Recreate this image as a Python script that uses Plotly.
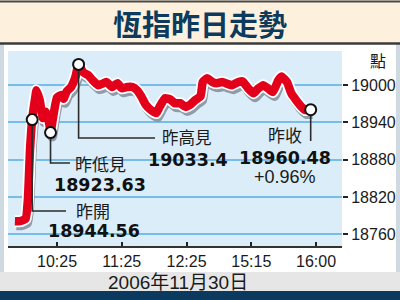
import plotly.graph_objects as go

# ---------------- data ----------------
t_pos = [-39, -34, -29, -27, -25, -23, -20, -19, -16, -13, -10, -7, -6,
         -3, 0, 4, 6, 9, 13, 17, 20,
         24, 29, 33, 38, 43, 46, 51, 56, 60,
         65, 70, 74, 78, 82, 87, 92, 95, 100,
         105, 109, 114, 119, 123, 128, 133, 135, 139,
         144, 148, 153, 158, 162, 168, 172, 177, 182,
         186, 191, 196, 200, 205, 208, 213, 217, 221,
         225, 230, 235]
hsi = [18781, 18781, 18785, 18815, 18896, 18944.56, 18982, 18992, 18976, 18947, 18957, 18936, 18923.63,
       18955, 18980, 18984, 18978, 18990, 18997, 19013, 19033.4,
       19021, 19016, 19008, 19000, 19003, 19005, 18997, 19003, 18995,
       18997, 18997, 18992, 18982, 18969, 18960, 18955, 18965, 18979,
       18977, 18971, 18971, 18965, 18968, 18976, 18982, 19005, 19011,
       19005, 19003, 19005, 19002, 19000, 19005, 19006, 18995, 18987,
       18994, 19000, 18994, 18989, 19008, 19014, 19005, 18987, 18977,
       18968, 18960, 18960.48]

tick_pos = [0, 60, 120, 180, 240]
tick_labels = ["10:25", "11:25", "12:25", "15:15", "16:00"]
y_ticks = [18760, 18820, 18880, 18940, 19000]
y_tick_labels = ["18760", "18820", "18880", "18940", "19000"]

key_names = ["昨開", "昨低見", "昨高見", "昨收"]
key_values = ["18944.56", "18923.63", "19033.4", "18960.48"]
key_idx = [5, 12, 20, len(hsi) - 1]
change_text = "+0.96%"
title_text = "恆指昨日走勢"
date_text = "2006年11月30日"
unit_text = "點"

# ---------------- geometry helpers (pixel -> axis) ----------------
W, H = 400, 300
PX_L, PX_R, PY_T, PY_B = 8, 342, 51, 246
X0, X1 = -45.4, 264.0
Y0, Y1 = 18741.0, 19055.0


def ax_x(px):
    return X0 + (px - PX_L) * (X1 - X0) / (PX_R - PX_L)


def ax_y(py):
    return Y0 + (PY_B - py) * (Y1 - Y0) / (PY_B - PY_T)


sx = (X1 - X0) / (PX_R - PX_L)
sy = (Y1 - Y0) / (PY_B - PY_T)

fig = go.Figure()

# shadow, white rim, red line
fig.add_trace(go.Scatter(x=[v + 1.5 * sx for v in t_pos], y=[v - 4 * sy for v in hsi],
                         mode="lines", line=dict(color="#8f9ba8", width=10, shape="spline", smoothing=0.4),
                         hoverinfo="skip", showlegend=False))
fig.add_trace(go.Scatter(x=t_pos, y=hsi, mode="lines",
                         line=dict(color="white", width=12, shape="spline", smoothing=0.4),
                         hoverinfo="skip", showlegend=False))
fig.add_trace(go.Scatter(x=t_pos, y=hsi, mode="lines",
                         line=dict(color="#e2001a", width=8.5, shape="spline", smoothing=0.4),
                         hoverinfo="skip", showlegend=False))

# leader lines
leader_specs = [  # (label y px, horizontal end px or None)
    (211, 66),
    (163, 70),
    (138, 155),
    (141, None),
]
for (ly, hx), i in zip(leader_specs, key_idx):
    xs = [t_pos[i], t_pos[i]]
    ys = [hsi[i], ax_y(ly)]
    if hx is not None:
        xs.append(ax_x(hx))
        ys.append(ax_y(ly))
    fig.add_trace(go.Scatter(x=xs, y=ys, mode="lines", line=dict(color="#2b2b2b", width=1.6),
                             hoverinfo="skip", showlegend=False))

# markers
fig.add_trace(go.Scatter(x=[t_pos[i] for i in key_idx], y=[hsi[i] for i in key_idx],
                         mode="markers",
                         marker=dict(size=11, color="white", line=dict(color="#111", width=2)),
                         hoverinfo="skip", showlegend=False))

# ---------------- background shapes ----------------
shapes = []
shapes.append(dict(type="rect", xref="paper", yref="paper", x0=0, x1=4 / W, y0=0, y1=1,
                   fillcolor="#cfd9e2", line_width=0, layer="below"))
shapes.append(dict(type="rect", xref="paper", yref="paper", x0=396 / W, x1=1, y0=0, y1=1,
                   fillcolor="#cfd9e2", line_width=0, layer="below"))
shapes.append(dict(type="rect", xref="paper", yref="paper", x0=0, x1=1, y0=1 - 43 / H, y1=1,
                   fillcolor="#fdf0dc", line_width=0, layer="below"))
shapes.append(dict(type="line", xref="paper", yref="paper", x0=0, x1=1, y0=1 - 1.5 / H, y1=1 - 1.5 / H,
                   line=dict(color="#4a4a4a", width=2), layer="below"))
shapes.append(dict(type="line", xref="paper", yref="paper", x0=0, x1=1, y0=1 - 43.5 / H, y1=1 - 43.5 / H,
                   line=dict(color="#3b3b3b", width=2.5), layer="below"))
shapes.append(dict(type="rect", xref="paper", yref="paper", x0=0, x1=1, y0=1 - 291 / H, y1=1 - 272 / H,
                   fillcolor="#e6e6e6", line_width=0, layer="below"))
shapes.append(dict(type="rect", xref="paper", yref="paper", x0=0, x1=1, y0=0, y1=1 - 291 / H,
                   fillcolor="#0c3a5e", line_width=0, layer="below"))

annotations = []
annotations.append(dict(text=f"<b>{title_text}</b>", xref="paper", yref="paper", x=0.5, y=1 - 23 / H,
                        showarrow=False, xanchor="center", yanchor="middle",
                        font=dict(family="Noto Sans CJK TC", size=29, color="#0d3b5e")))
annotations.append(dict(text=date_text, xref="paper", yref="paper", x=178 / W, y=1 - 282 / H,
                        showarrow=False, xanchor="center", yanchor="middle",
                        font=dict(family="Liberation Sans, Noto Sans CJK TC", size=19, color="#1a1a1a")))
annotations.append(dict(text=unit_text, xref="paper", yref="paper", x=378 / W, y=1 - 60 / H,
                        showarrow=False, xanchor="center", yanchor="middle",
                        font=dict(family="Noto Sans CJK TC", size=16, color="#1a1a1a")))

name_pos = [(93, 210), (100, 163), (187, 137.5), (285, 134)]
value_pos = [(94, 231), (100, 185), (188, 159.5), (285, 158)]
name_sizes = [17, 17, 16.5, 17]
for nm, val, (nx, ny), (vx, vy), ns in zip(key_names, key_values, name_pos, value_pos, name_sizes):
    annotations.append(dict(text=nm, xref="paper", yref="paper", x=nx / W, y=1 - ny / H,
                            showarrow=False, xanchor="center", yanchor="middle",
                            font=dict(family="Noto Sans CJK TC", size=ns, color="#1a1a1a")))
    annotations.append(dict(text=f"<b>{val}</b>", xref="paper", yref="paper", x=vx / W, y=1 - vy / H,
                            showarrow=False, xanchor="center", yanchor="middle",
                            font=dict(family="DejaVu Sans", size=17.5, color="#111")))
annotations.append(dict(text=change_text, xref="paper", yref="paper", x=285 / W, y=1 - 177 / H,
                        showarrow=False, xanchor="center", yanchor="middle",
                        font=dict(family="Liberation Sans", size=18, color="#1a1a1a")))

fig.update_layout(
    width=W, height=H,
    margin=dict(l=0, r=0, t=0, b=0),
    paper_bgcolor="white",
    plot_bgcolor="#dcedfa",
    shapes=shapes,
    annotations=annotations,
    xaxis=dict(domain=[PX_L / W, PX_R / W], range=[X0, X1], showgrid=False, zeroline=False,
               tickmode="array", tickvals=tick_pos, ticktext=tick_labels,
               ticks="inside", ticklen=4, tickwidth=2, tickcolor="#222",
               showline=True, linecolor="#333", linewidth=1.5,
               ticklabelstandoff=0,
               tickfont=dict(family="Liberation Sans Narrow, Liberation Sans", size=16, color="#1a1a1a")),
    yaxis=dict(domain=[1 - PY_B / H, 1 - PY_T / H], range=[Y0, Y1], side="right",
               tickmode="array", tickvals=y_ticks, ticktext=y_tick_labels,
               ticks="outside", ticklen=5, tickwidth=1.5,
               tickcolor="#222", showgrid=True, gridcolor="#78bde9", gridwidth=2,
               zeroline=False, showline=False,
               tickfont=dict(family="Liberation Sans", size=16, color="#1a1a1a")),
    showlegend=False,
)

fig.write_html("out.html")
